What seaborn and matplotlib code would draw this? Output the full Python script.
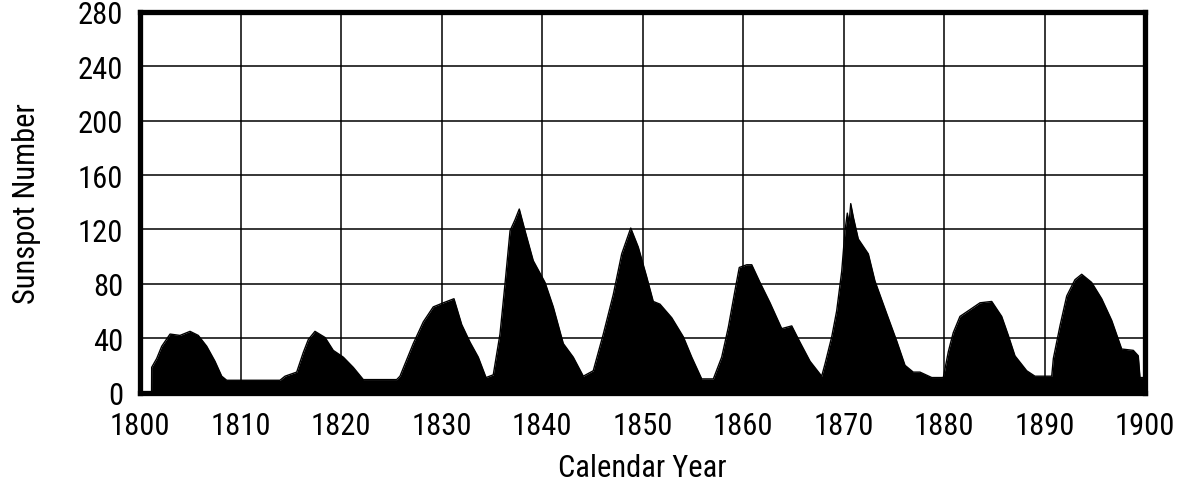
import numpy as np
import pandas as pd
import matplotlib
matplotlib.use("Agg")
import matplotlib.pyplot as plt
from matplotlib import font_manager as fm
import seaborn as sns

# Data (calendar year, sunspot number)
years = [1800.0, 1801.15, 1801.16, 1801.66, 1802.16, 1802.99, 1803.98, 1804.98, 1805.80,
         1806.64, 1807.46, 1808.13, 1808.63, 1813.93, 1814.43, 1815.59, 1816.25, 1816.75,
         1817.41, 1818.41, 1819.23, 1820.23, 1821.22, 1822.22, 1825.54, 1825.87, 1827.19,
         1828.19, 1829.18, 1830.18, 1831.24, 1832.01, 1832.84, 1833.66, 1834.43, 1835.15,
         1835.82, 1836.32, 1836.82, 1837.31, 1837.74, 1838.31, 1839.13, 1840.30, 1841.12,
         1842.12, 1843.11, 1844.11, 1845.10, 1846.10, 1847.09, 1847.93, 1848.83, 1849.58,
         1850.42, 1851.07, 1851.74, 1852.91, 1854.06, 1854.90, 1855.89, 1857.05, 1857.88,
         1858.54, 1859.20, 1859.63, 1860.37, 1860.87, 1861.69, 1862.69, 1863.85, 1864.85,
         1865.67, 1866.67, 1867.83, 1868.16, 1868.83, 1869.32, 1869.82, 1870.15, 1870.38,
         1870.55, 1870.72, 1870.98, 1871.47, 1872.47, 1873.13, 1874.30, 1875.29, 1876.12,
         1876.94, 1877.61, 1878.78, 1879.93, 1880.43, 1880.92, 1881.59, 1882.59, 1883.58,
         1884.75, 1885.74, 1886.40, 1887.06, 1888.23, 1889.05, 1890.72, 1890.88, 1891.54,
         1892.21, 1893.03, 1893.70, 1894.69, 1895.69, 1896.69, 1897.68, 1898.84, 1899.33,
         1899.50, 1900.0]
sunspots = [0, 0, 18.5, 25, 34, 43, 42, 45, 42,
            34, 23, 12, 9, 9, 12, 15, 29.5, 39,
            45, 40.5, 31, 26, 18.5, 9.5, 9.5, 12, 36,
            52, 63, 66, 69, 50, 37, 26, 11, 13,
            43, 80, 119, 127, 135, 119, 97, 81, 63,
            36, 26, 12, 16, 43, 72, 102, 121, 107,
            85, 67, 65, 55, 41, 26, 10, 10, 26,
            48, 75, 92, 94, 94, 81, 66, 47, 49,
            37, 23, 12, 21, 41, 60, 89, 119, 132,
            124, 139, 129, 113, 102, 82, 58, 38, 20,
            15, 15, 11, 11, 30, 44, 56, 61, 66,
            67, 56, 42, 27, 16, 12, 12, 25, 49,
            71, 83, 87, 81, 69, 53, 32, 31, 27,
            11, 11]

x_ticks = [1800, 1810, 1820, 1830, 1840, 1850, 1860, 1870, 1880, 1890, 1900]
y_ticks = [0, 40, 80, 120, 160, 200, 240, 280]

df = pd.DataFrame({"Calendar Year": years, "Sunspot Number": sunspots})

sns.set_theme(style="white")

installed = {f.name for f in fm.fontManager.ttflist}
preferred = ["Arial Narrow", "Liberation Sans Narrow", "Nimbus Sans Narrow", "Helvetica Narrow",
             "Roboto Condensed", "Archivo Narrow", "PT Sans Narrow", "Arimo", "Liberation Sans"]
family = next((f for f in preferred if f in installed), "DejaVu Sans")
plt.rcParams["font.family"] = [family, "DejaVu Sans"]
fsize = 22 if family not in ("Arimo", "Liberation Sans", "DejaVu Sans") else 20

W, H = 1185, 485
fig = plt.figure(figsize=(W / 100, H / 100), dpi=100)
ax = fig.add_axes([140 / W, 1 - 393.5 / H, 1005 / W, 380.5 / H])

ax.fill_between(df["Calendar Year"], 0, df["Sunspot Number"], color="black", lw=0, zorder=2)
sns.lineplot(data=df, x="Calendar Year", y="Sunspot Number", color="black", lw=1.0,
             ax=ax, zorder=3)

ax.set_xlim(1800, 1900)
ax.set_ylim(0, 280)
ax.set_xticks(x_ticks)
ax.set_yticks(y_ticks)
ax.grid(True, color="black", lw=1.1, zorder=1)
ax.set_axisbelow(True)

for s in ax.spines.values():
    s.set_visible(True)
    s.set_color("black")
    s.set_linewidth(3.8)
    s.set_zorder(5)

ax.tick_params(axis="both", length=0, labelsize=fsize, colors="black")
ax.tick_params(axis="x", pad=13)
ax.tick_params(axis="y", pad=12)

ax.set_xlabel("Calendar Year", fontsize=fsize, color="black")
ax.set_ylabel("Sunspot Number", fontsize=fsize, color="black")
ax.xaxis.set_label_coords(0.5, -0.16)
ax.yaxis.set_label_coords(-0.099, 0.5)

fig.savefig("out.png", dpi=100, facecolor="white")
